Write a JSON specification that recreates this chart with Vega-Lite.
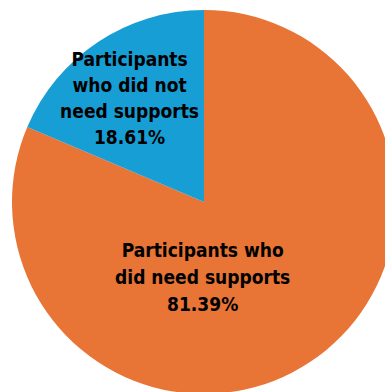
{
  "$schema": "https://vega.github.io/schema/vega-lite/v6.json",
  "width": 408,
  "height": 404,
  "padding": 0,
  "autosize": {"type": "none"},
  "background": "white",
  "view": {"stroke": null},
  "data": {
    "values": [
      {"group": "Participants who did need supports", "label": "Participants who\ndid need supports\n81.39%", "share": 81.39, "rank": 1},
      {"group": "Participants who did not need supports", "label": "Participants\nwho did not\nneed supports\n18.61%", "share": 18.61, "rank": 2}
    ]
  },
  "encoding": {
    "theta": {"field": "share", "type": "quantitative", "stack": true},
    "order": {"field": "rank", "type": "quantitative"}
  },
  "layer": [
    {
      "mark": {"type": "arc", "outerRadius": 192},
      "encoding": {
        "color": {
          "field": "group",
          "type": "nominal",
          "scale": {"domain": ["Participants who did need supports", "Participants who did not need supports"], "range": ["#E87435", "#169ED5"]},
          "legend": null
        }
      }
    },
    {
      "mark": {"type": "text", "radius": 124, "dx": -6, "dy": -39, "lineBreak": "\n", "lineHeight": 26, "font": "DejaVu Sans Condensed, sans-serif", "fontWeight": "bold", "fontSize": 19, "color": "black", "align": "center", "baseline": "middle"},
      "encoding": {"text": {"condition": {"test": "datum.rank == 2", "field": "label"}, "value": ""}}
    },
    {
      "mark": {"type": "text", "radius": 90, "dx": -51, "dy": -26, "lineBreak": "\n", "lineHeight": 27, "font": "DejaVu Sans Condensed, sans-serif", "fontWeight": "bold", "fontSize": 19, "color": "black", "align": "center", "baseline": "middle"},
      "encoding": {"text": {"condition": {"test": "datum.rank == 1", "field": "label"}, "value": ""}}
    }
  ]
}
